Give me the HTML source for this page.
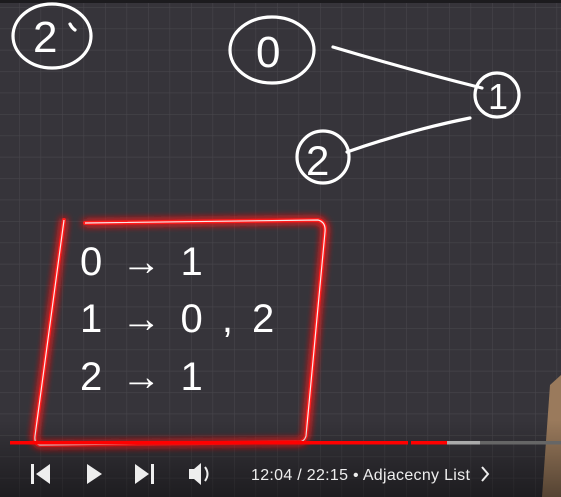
<!DOCTYPE html>
<html><head><style>
html,body{margin:0;padding:0;background:#36343a;}
body{width:561px;height:497px;overflow:hidden;position:relative;}
svg{position:absolute;left:0;top:0;}
</style></head><body>
<svg width="561" height="497" viewBox="0 0 561 497">
<defs>
<pattern id="g" width="21.5" height="21.4" patternUnits="userSpaceOnUse" x="19" y="7">
<path d="M0 0H21.5M0 0V21.4" stroke="#47454b" stroke-width="1.2" fill="none"/>
</pattern>
<filter id="glow" x="-20%" y="-20%" width="140%" height="140%">
<feGaussianBlur stdDeviation="4" result="b"/>
<feMerge><feMergeNode in="b"/><feMergeNode in="b"/><feMergeNode in="SourceGraphic"/></feMerge>
</filter>
<linearGradient id="bot" x1="0" y1="0" x2="0" y2="1">
<stop offset="0" stop-color="#000" stop-opacity="0"/>
<stop offset="1" stop-color="#000" stop-opacity="0.45"/>
</linearGradient>
</defs>
<rect width="561" height="497" fill="#36343a"/>
<rect width="561" height="497" fill="url(#g)"/>
<rect width="561" height="3" fill="#1c1b1e"/>
<g fill="none" stroke="#fff" stroke-width="3.2" stroke-linecap="round">
<ellipse cx="52" cy="36" rx="39" ry="32"/>
<ellipse cx="272" cy="50" rx="42" ry="33"/>
<circle cx="497" cy="95" r="22"/>
<circle cx="323" cy="157" r="26"/>
<path d="M333 47 Q410 70 482 88"/>
<path d="M347 152 Q410 130 470 118"/>
<path d="M70 24 Q72 28 75 30"/>
</g>
<g font-family="Liberation Sans, sans-serif" fill="#fff">
<text x="33" y="52" font-size="44">2</text>
<text x="256" y="67" font-size="44">0</text>
<text x="488" y="109" font-size="36">1</text>
<text x="306" y="175" font-size="42">2</text>
<text x="80" y="275" font-size="40" letter-spacing="4">0 → 1</text>
<text x="80" y="332" font-size="40" letter-spacing="4">1 → 0 , 2</text>
<text x="80" y="390" font-size="40" letter-spacing="4">2 → 1</text>
</g>
<g fill="none" stroke="#ff1a1a" stroke-width="4" stroke-linecap="round" filter="url(#glow)">
<path d="M85 223 L318 220 Q326 222 325 232 L306 436 Q304 443 296 442 L40 445 Q34 444 35 436 L64 220"/>
</g>
<g fill="none" stroke="#f5e9e9" stroke-width="1.2">
<path d="M85 223 L318 220 Q326 222 325 232 L306 436 Q304 443 296 442 L40 445 Q34 444 35 436 L64 220"/>
</g>
<path d="M561 375 L550 385 L542 497 L561 497 Z" fill="#9a7a5c"/>
<rect x="0" y="420" width="561" height="77" fill="url(#bot)"/>
<rect x="10" y="441" width="398" height="3.5" fill="#f00"/>
<rect x="411" y="441" width="36" height="3.5" fill="#f00"/>
<rect x="447" y="441" width="33" height="3.5" fill="#aaa"/>
<rect x="480" y="441" width="81" height="3.5" fill="#666"/>
<g fill="#eee">
<rect x="31" y="464" width="3" height="20"/>
<path d="M50 464 V484 L36 474 Z"/>
<path d="M87 464 V484 L102 474 Z"/>
<path d="M135 464 V484 L149 474 Z"/>
<rect x="151" y="464" width="3" height="20"/>
<path d="M189 469 H194 L201 463 V485 L194 479 H189 Z"/>
</g>
<path d="M205 467 Q210 474 205 481" stroke="#eee" stroke-width="2" fill="none"/>
<text x="251" y="480" font-family="Liberation Sans, sans-serif" font-size="16" fill="#eee" letter-spacing="0.3">12:04 / 22:15  •  Adjacecny List</text>
<path d="M482 467 L488 474 L482 481" stroke="#eee" stroke-width="2" fill="none"/>
</svg>
</body></html>
